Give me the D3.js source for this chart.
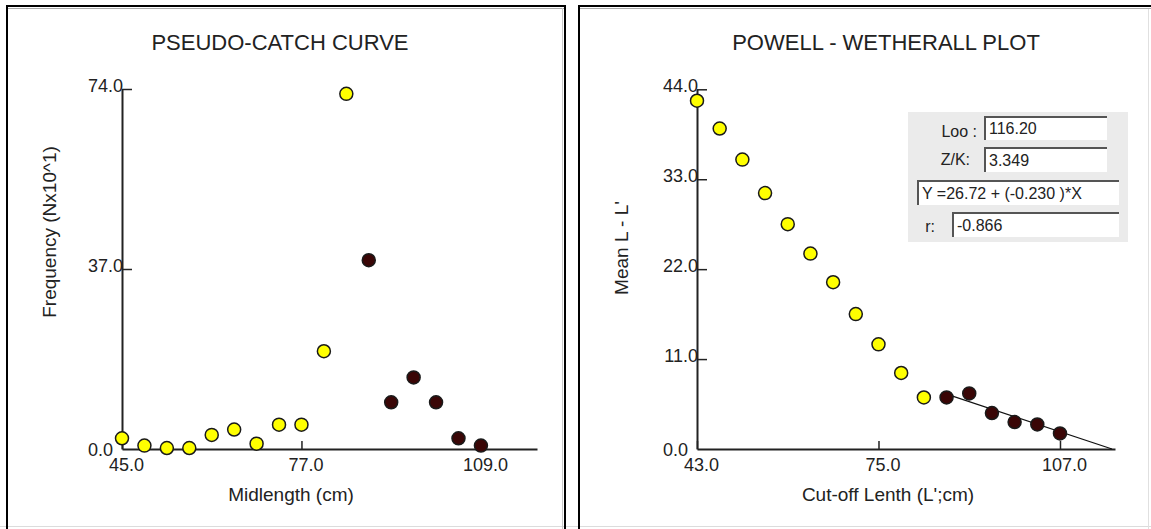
<!DOCTYPE html>
<html>
<head>
<meta charset="utf-8">
<script src="https://cdn.jsdelivr.net/npm/d3@7"></script>
<style>
  body { margin: 0; background: #ffffff; }
  svg { display: block; font-family: "Liberation Sans", Arial, sans-serif; }
  .axis path, .axis line { stroke: #222; }
  .axis text { fill: #222; font-size: 18px; font-family: "Liberation Sans", Arial, sans-serif; }
</style>
</head>
<body>
<script>
// pseudo-catch curve data (left panel)
var midlength = [45, 49, 53, 57, 61, 65, 69, 73, 77, 81, 85, 89, 93, 97, 101, 105, 109]
var frequency = [2.2, 0.7, 0.2, 0.2, 2.9, 4.0, 1.1, 5.0, 5.0, 20.1, 73.0, 38.8, 9.6, 14.7, 9.6, 2.2, 0.7]
var catchUsed = [0, 0, 0, 0, 0, 0, 0, 0, 0, 0, 0, 1, 1, 1, 1, 1, 1]
var catchXTicks = [45, 77, 109]
var catchYTicks = [0, 37, 74]

// powell-wetherall data (right panel)
var cutoff = [43, 47, 51, 55, 59, 63, 67, 71, 75, 79, 83, 87, 91, 95, 99, 103, 107]
var meanDiff = [42.6, 39.2, 35.4, 31.3, 27.5, 23.9, 20.4, 16.5, 12.8, 9.3, 6.3, 6.3, 6.8, 4.4, 3.3, 3.0, 1.9]
var pwUsed = [0, 0, 0, 0, 0, 0, 0, 0, 0, 0, 0, 1, 1, 1, 1, 1, 1]
var pwXTicks = [43, 75, 107]
var pwYTicks = [0, 11, 22, 33, 44]

// regression results
var loo = 116.20
var zk = 3.349
var intercept = 26.72
var slope = -0.230
var rValue = -0.866

var width = 1151
var height = 529

var svg = d3.select("body").append("svg")
    .attr("width", width)
    .attr("height", height);

function drawFrames() {
    // bottom light line
    svg.append("line").attr("x1", 0).attr("x2", width).attr("y1", 526.5).attr("y2", 526.5)
        .style("stroke", "#dcdcdc").style("stroke-width", 1);
    // left panel
    svg.append("line").attr("x1", 7).attr("x2", 7).attr("y1", 5).attr("y2", height)
        .style("stroke", "#000").style("stroke-width", 2);
    svg.append("line").attr("x1", 6).attr("x2", 566).attr("y1", 6).attr("y2", 6)
        .style("stroke", "#000").style("stroke-width", 2);
    svg.append("line").attr("x1", 8).attr("x2", 564).attr("y1", 8.5).attr("y2", 8.5)
        .style("stroke", "#aaa").style("stroke-width", 1);
    svg.append("line").attr("x1", 565).attr("x2", 565).attr("y1", 5).attr("y2", height)
        .style("stroke", "#000").style("stroke-width", 2);
    svg.append("line").attr("x1", 562.5).attr("x2", 562.5).attr("y1", 8).attr("y2", height)
        .style("stroke", "#c8c8c8").style("stroke-width", 1);
    // right panel
    svg.append("line").attr("x1", 579).attr("x2", 579).attr("y1", 5).attr("y2", height)
        .style("stroke", "#000").style("stroke-width", 2);
    svg.append("line").attr("x1", 578).attr("x2", width).attr("y1", 6).attr("y2", 6)
        .style("stroke", "#000").style("stroke-width", 2);
    svg.append("line").attr("x1", 580).attr("x2", width).attr("y1", 8.5).attr("y2", 8.5)
        .style("stroke", "#aaa").style("stroke-width", 1);
    svg.append("line").attr("x1", 1148.5).attr("x2", 1148.5).attr("y1", 9).attr("y2", height)
        .style("stroke", "#e0e0e0").style("stroke-width", 1);
}

function renderPanel(opt) {
    var g = svg.append("g");

    var xScale = d3.scaleLinear().domain(opt.xDomain).range(opt.xRange);
    var yScale = d3.scaleLinear().domain(opt.yDomain).range(opt.yRange);

    g.append("text")
        .attr("x", opt.titleX).attr("y", 50)
        .attr("text-anchor", "middle")
        .style("font-size", "22px").style("fill", "#222")
        .text(opt.title);

    var xAxis = d3.axisBottom(xScale)
        .tickValues(opt.xTicks)
        .tickSizeInner(-8).tickSizeOuter(0)
        .tickFormat(d3.format(".1f"));

    var gx = g.append("g")
        .attr("class", "axis")
        .attr("transform", "translate(0," + opt.yRange[0] + ")")
        .call(xAxis);
    gx.select(".domain").style("stroke-width", 2);
    gx.selectAll(".tick line").style("stroke-width", 1.5);
    gx.selectAll(".tick text").attr("y", 22).attr("dy", 0).attr("dx", 4);

    var yAxis = d3.axisLeft(yScale)
        .tickValues(opt.yTicks)
        .tickSizeInner(-10).tickSizeOuter(0).tickPadding(0)
        .tickFormat(d3.format(".1f"));

    var gy = g.append("g")
        .attr("class", "axis")
        .attr("transform", "translate(" + opt.xRange[0] + ",0)")
        .call(yAxis);
    gy.select(".domain").style("stroke-width", 2);
    gy.selectAll(".tick line").style("stroke-width", 1.5);
    gy.selectAll(".tick text")
        .attr("dy", 0)
        .attr("x", function (d) { return d === 0 ? -9 : 1; })
        .attr("y", function (d) { return d === 0 ? 6 : 2; });
    gy.selectAll(".tick").filter(function (d) { return d === 0; }).select("line").remove();

    g.append("text")
        .attr("x", opt.xLabelX).attr("y", 501)
        .attr("text-anchor", "middle")
        .style("font-size", "19px").style("fill", "#222")
        .text(opt.xLabel);

    g.append("text")
        .attr("transform", "translate(" + opt.yLabelX + "," + opt.yLabelY + ") rotate(-90)")
        .attr("text-anchor", "middle")
        .attr("dy", "0.35em")
        .style("font-size", "19px").style("fill", "#222")
        .text(opt.yLabel);

    if (opt.extra) opt.extra(g, xScale, yScale);

    var pts = opt.xs.map(function (x, i) { return { x: x, y: opt.ys[i], used: opt.used[i] }; });
    g.selectAll("circle.pt")
        .data(pts)
        .enter()
        .append("circle")
        .attr("class", "pt")
        .attr("cx", function (d) { return xScale(d.x); })
        .attr("cy", function (d) { return yScale(d.y); })
        .attr("r", 6.5)
        .style("fill", function (d) { return d.used ? "#3a0606" : "#ffff00"; })
        .style("stroke", "#1a1a1a")
        .style("stroke-width", 1.5);
}

function renderInfoBox() {
    var g = svg.append("g");
    g.append("rect").attr("x", 908).attr("y", 112).attr("width", 220).attr("height", 130)
        .style("fill", "#ebebeb");

    function field(x, y, w, h, txt) {
        g.append("rect").attr("x", x).attr("y", y).attr("width", w).attr("height", h)
            .style("fill", "#ffffff");
        g.append("path")
            .attr("d", "M" + x + "," + (y + h) + "V" + y + "H" + (x + w))
            .style("fill", "none").style("stroke", "#555").style("stroke-width", 2);
        g.append("text").attr("x", x + 4).attr("y", y + h - 6)
            .style("font-size", "16px").style("fill", "#222")
            .text(txt);
    }
    function label(x, y, txt) {
        g.append("text").attr("x", x).attr("y", y).attr("text-anchor", "end")
            .style("font-size", "16px").style("fill", "#222")
            .text(txt);
    }

    label(977, 137, "Loo :");
    field(985, 117, 122, 23, loo.toFixed(2));
    label(970, 165, "Z/K:");
    field(985, 148, 122, 24, zk.toFixed(3));
    field(918, 181, 201, 24, "Y =" + intercept.toFixed(2) + " + (" + slope.toFixed(3) + " )*X");
    label(935, 232, "r:");
    field(953, 213, 166, 24, rValue.toFixed(3));
}

drawFrames();

renderPanel({
    title: "PSEUDO-CATCH CURVE", titleX: 280,
    xDomain: [45, 119], xRange: [122, 537],
    yDomain: [0, 74], yRange: [449, 89],
    xTicks: catchXTicks, yTicks: catchYTicks,
    xLabel: "Midlength (cm)", xLabelX: 291,
    yLabel: "Frequency (Nx10^1)", yLabelX: 49, yLabelY: 232,
    xs: midlength, ys: frequency, used: catchUsed
});

renderPanel({
    title: "POWELL - WETHERALL PLOT", titleX: 886,
    xDomain: [43, 116.7], xRange: [697, 1115],
    yDomain: [0, 44], yRange: [449, 89.3],
    xTicks: pwXTicks, yTicks: pwYTicks,
    xLabel: "Cut-off Lenth (L';cm)", xLabelX: 888,
    yLabel: "Mean L - L'", yLabelX: 621, yLabelY: 248,
    xs: cutoff, ys: meanDiff, used: pwUsed,
    extra: function (g, xScale, yScale) {
        var x0 = cutoff[pwUsed.indexOf(1)];
        var x1 = -intercept / slope;
        var line = d3.line()
            .x(function (d) { return xScale(d); })
            .y(function (d) { return yScale(intercept + slope * d); });
        g.append("path")
            .datum([x0, x1])
            .attr("d", line)
            .style("fill", "none").style("stroke", "#111").style("stroke-width", 1.2);
    }
});

renderInfoBox();
</script>
</body>
</html>
